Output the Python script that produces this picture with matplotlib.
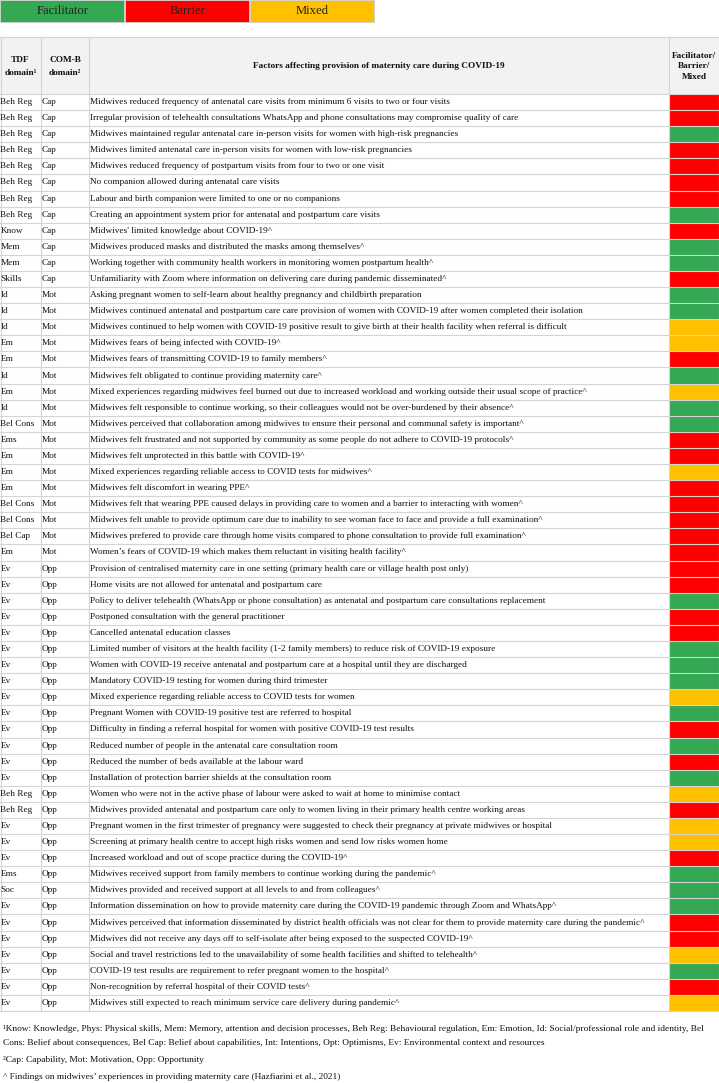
import matplotlib
matplotlib.use("Agg")
import matplotlib.pyplot as plt
from matplotlib.patches import Rectangle

plt.rcParams['font.family'] = ['Liberation Serif', 'DejaVu Serif']

# ---------------- data ----------------
legend_labels = ["Facilitator", "Barrier", "Mixed"]
status_colors = {"F": "#34A853", "B": "#FF0000", "M": "#FFC000"}

tdf = ["Beh Reg"] * 8 + ["Know", "Mem", "Mem", "Skills", "Id", "Id", "Id", "Em", "Em", "Id", "Em", "Id",
       "Bel Cons", "Ems", "Em", "Em", "Em", "Bel Cons", "Bel Cons", "Bel Cap", "Em"] + ["Ev"] * 14 + \
      ["Beh Reg", "Beh Reg", "Ev", "Ev", "Ev", "Ems", "Soc"] + ["Ev"] * 7

comb = ["Cap"] * 12 + ["Mot"] * 17 + ["Opp"] * 28

factors = [
    "Midwives reduced frequency of antenatal care visits from minimum 6 visits to two or four visits",
    "Irregular provision of telehealth consultations WhatsApp and phone consultations may compromise quality of care",
    "Midwives maintained regular antenatal care in-person visits for women with high-risk pregnancies",
    "Midwives limited antenatal care in-person visits for women with low-risk pregnancies",
    "Midwives reduced frequency of postpartum visits from four to two or one visit",
    "No companion allowed during antenatal care visits",
    "Labour and birth companion were limited to one or no companions",
    "Creating an appointment system prior for antenatal and postpartum care visits",
    "Midwives' limited knowledge about COVID-19^",
    "Midwives produced masks and distributed the masks among themselves^",
    "Working together with community health workers in monitoring women postpartum health^",
    "Unfamiliarity with Zoom where information on delivering care during pandemic disseminated^",
    "Asking pregnant women to self-learn about healthy pregnancy and childbirth preparation",
    "Midwives continued antenatal and postpartum care care provision of women with COVID-19 after women completed their isolation",
    "Midwives continued to help women with COVID-19 positive result to give birth at their health facility when referral is difficult",
    "Midwives fears of being infected with COVID-19^",
    "Midwives fears of transmitting COVID-19 to family members^",
    "Midwives felt obligated to continue providing maternity care^",
    "Mixed experiences regarding midwives feel burned out due to increased workload and working outside their usual scope of practice^",
    "Midwives felt responsible to continue working, so their colleagues would not be over-burdened by their absence^",
    "Midwives perceived that collaboration among midwives to ensure their personal and communal safety is important^",
    "Midwives felt frustrated and not supported by community as some people do not adhere to COVID-19 protocols^",
    "Midwives felt unprotected in this battle with COVID-19^",
    "Mixed experiences regarding reliable access to COVID tests for midwives^",
    "Midwives felt discomfort in wearing PPE^",
    "Midwives felt that wearing PPE caused delays in providing care to women and a barrier to interacting with women^",
    "Midwives felt unable to provide optimum care due to inability to see woman face to face and provide a full examination^",
    "Midwives prefered to provide care through home visits compared to phone consultation to provide full examination^",
    "Women\u2019s fears of COVID-19 which makes them reluctant in visiting health facility^",
    "Provision of centralised maternity care in one setting (primary health care or village health post only)",
    "Home visits are not allowed for antenatal and postpartum care",
    "Policy to deliver telehealth (WhatsApp or phone consultation) as antenatal and postpartum care consultations replacement",
    "Postponed consultation with the general practitioner",
    "Cancelled antenatal education classes",
    "Limited number of visitors at the health facility (1-2 family members) to reduce risk of COVID-19 exposure",
    "Women with COVID-19 receive antenatal and postpartum care at a hospital until they are discharged",
    "Mandatory COVID-19 testing for women during third trimester",
    "Mixed experience regarding reliable access to COVID tests for women",
    "Pregnant Women with COVID-19 positive test are referred to hospital",
    "Difficulty in finding a referral hospital for women with positive COVID-19 test results",
    "Reduced number of people in the antenatal care consultation room",
    "Reduced the number of beds available at the labour ward",
    "Installation of protection barrier shields at the consultation room",
    "Women who were not in the active phase of labour were asked to wait at home to minimise contact",
    "Midwives provided antenatal and postpartum care only to women living in their primary health centre working areas",
    "Pregnant women in the first trimester of pregnancy were suggested to check their pregnancy at private midwives or hospital",
    "Screening at primary health centre to accept high risks women and send low risks women home",
    "Increased workload and out of scope practice during the COVID-19^",
    "Midwives received support from family members to continue working during the pandemic^",
    "Midwives provided and received support at all levels to and from colleagues^",
    "Information dissemination on how to provide maternity care during the COVID-19 pandemic through Zoom and WhatsApp^",
    "Midwives perceived that information disseminated by district health officials was not clear for them to provide maternity care during the pandemic^",
    "Midwives did not receive any days off to self-isolate after being exposed to the suspected COVID-19^",
    "Social and travel restrictions led to the unavailability of some health facilities and shifted to telehealth^",
    "COVID-19 test results are requirement to refer pregnant women to the hospital^",
    "Non-recognition by referral hospital of their COVID tests^",
    "Midwives still expected to reach minimum service care delivery during pandemic^",
]

status = ["B", "B", "F", "B", "B", "B", "B", "F", "B", "F", "F", "B",
          "F", "F", "M", "M", "B", "F", "M", "F", "F", "B", "B", "M", "B", "B", "B", "B", "B",
          "B", "B", "F", "B", "B", "F", "F", "F", "M", "F", "B", "F", "B", "F",
          "M", "B", "M", "M", "B", "F", "F", "F", "B", "B", "M", "F", "B", "M"]

headers = ["TDF\ndomain\u00b9", "COM-B\ndomain\u00b2",
           "Factors affecting provision of maternity care during COVID-19",
           "Facilitator/\nBarrier/\nMixed"]

footnotes = [
    "\u00b9Know: Knowledge, Phys: Physical skills, Mem: Memory, attention and decision processes, Beh Reg: Behavioural regulation, Em: Emotion, Id: Social/professional role and identity, Bel",
    "Cons: Belief about consequences, Bel Cap: Belief about capabilities, Int: Intentions, Opt: Optimisms, Ev: Environmental context and resources",
    "\u00b2Cap: Capability, Mot: Motivation, Opp: Opportunity",
    "^ Findings on midwives\u2019 experiences in providing maternity care (Hazfiarini et al., 2021)",
]

# ---------------- layout ----------------
W, H = 719, 1083
fig = plt.figure(figsize=(W / 100, H / 100), dpi=100)
ax = fig.add_axes([0, 0, 1, 1])
ax.set_xlim(0, W)
ax.set_ylim(H, 0)
ax.axis('off')

# legend bar
leg_w, leg_h = 125, 22
for i, (lab, key) in enumerate(zip(legend_labels, ["F", "B", "M"])):
    ax.barh(leg_h / 2, leg_w - 1, left=i * leg_w, height=leg_h, color=status_colors[key],
            edgecolor='#d0d0d0', linewidth=0.6)
    ax.text(i * leg_w + leg_w / 2, leg_h / 2 + 0.5, lab, ha='center', va='center', fontsize=9.1, color='#222222')

col_x = [0, 41, 89, 669, 719]
head_top, head_bot = 37, 94
n = len(factors)
row_h = (1011 - head_bot) / n
grid = '#d4d4d4'
fs = 6.65

# header
ax.add_patch(Rectangle((0, head_top), W, head_bot - head_top, facecolor='#f2f2f2', edgecolor='none'))
for j, h in enumerate(headers):
    ls = 1.75 if j < 2 else 1.45
    ax.text((col_x[j] + col_x[j + 1]) / 2, (head_top + head_bot) / 2 + 1, h, ha='center', va='center',
            fontsize=6.7, fontweight='bold', linespacing=ls, color='#111111')

# rows
centers = [head_bot + (i + 0.5) * row_h for i in range(n)]
ax.barh(centers, col_x[4] - col_x[3], left=col_x[3], height=row_h,
        color=[status_colors[s] for s in status], edgecolor='#d8d8d8', linewidth=0.5)
for i in range(n):
    y = centers[i]
    ax.text(col_x[0] + 0.5, y, tdf[i], ha='left', va='center', fontsize=fs, color='#111111')
    ax.text(col_x[1] + 1.0, y, comb[i], ha='left', va='center', fontsize=fs, color='#111111')
    ax.text(col_x[2] + 1.0, y, factors[i], ha='left', va='center', fontsize=fs, color='#111111')

# grid lines
for i in range(n + 1):
    y = head_bot + i * row_h
    ax.plot([0, W], [y, y], color=grid, lw=0.8)
ax.plot([0, W], [head_top, head_top], color=grid, lw=0.8)
for x in col_x[1:4]:
    ax.plot([x, x], [head_top, 1011], color=grid, lw=0.8)
ax.plot([W - 0.5, W - 0.5], [head_top, 1011], color=grid, lw=0.8)
ax.plot([0.5, 0.5], [head_top, 1011], color=grid, lw=0.8)

# footnotes
for y, t in zip([1029, 1043, 1060, 1077], footnotes):
    ax.text(3, y, t, ha='left', va='center', fontsize=6.75, color='#111111')

fig.savefig("out.png", dpi=100)
